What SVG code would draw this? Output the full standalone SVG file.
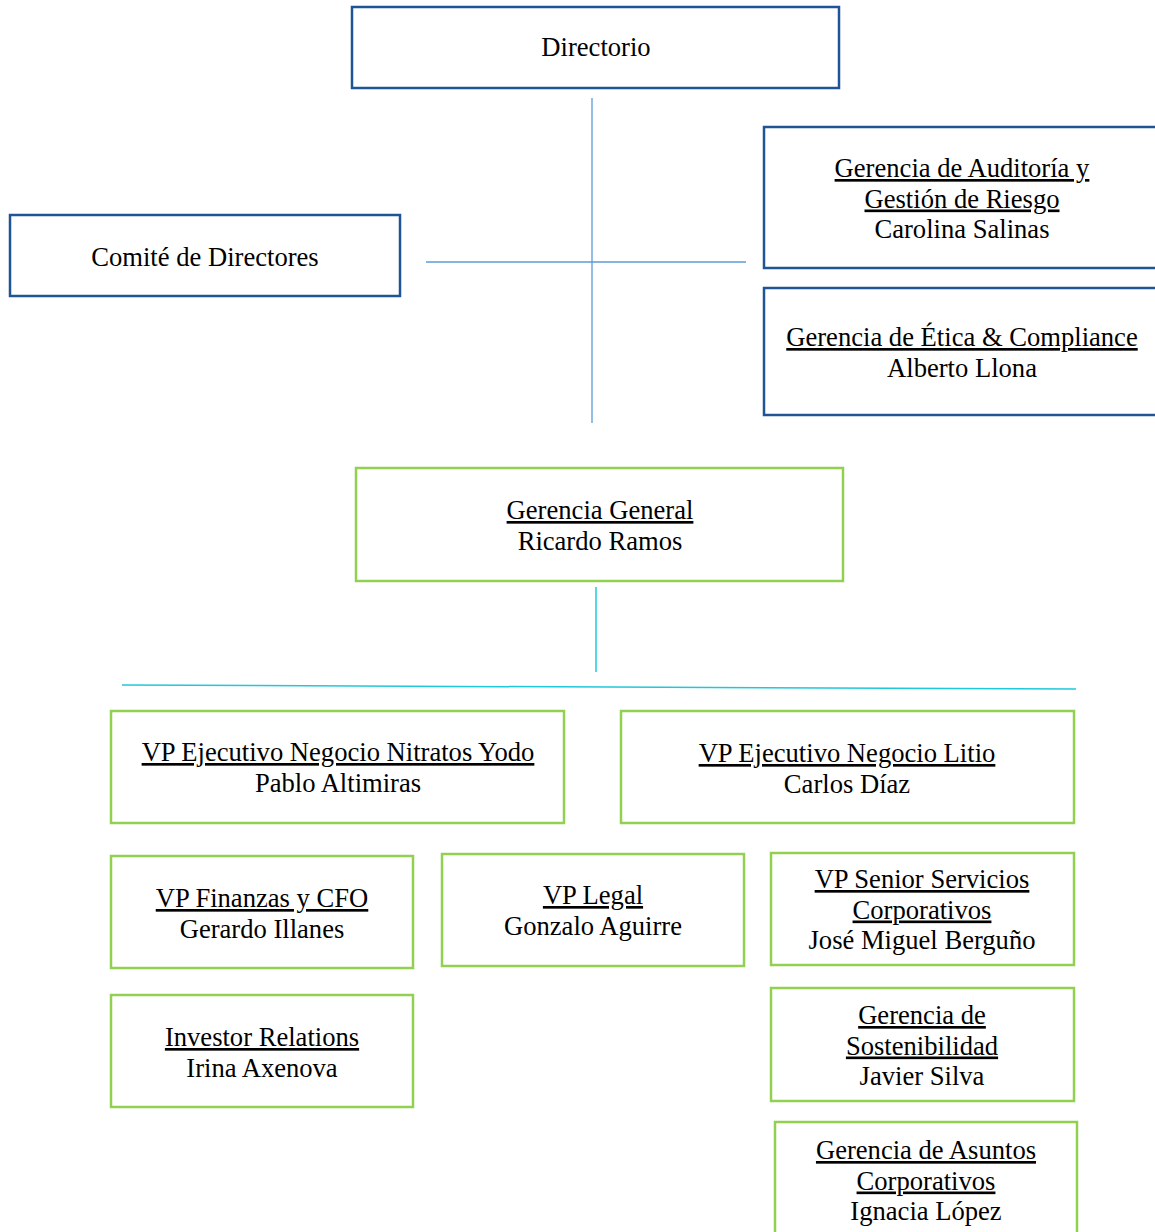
<svg xmlns="http://www.w3.org/2000/svg" width="1155" height="1232" viewBox="0 0 1155 1232">
<style>
text{font-family:"Liberation Serif","Times New Roman",serif;font-size:26.6px;fill:#000;text-anchor:middle}
.u{text-decoration:underline}
.blue{fill:#fff;stroke:#1F5597;stroke-width:2.5}
.green{fill:#fff;stroke:#92D050;stroke-width:2.5}
.cb{stroke:#5B9BD5;stroke-width:1.3;fill:none}
.cc{stroke:#1FC8DA;stroke-width:1.5;fill:none}
</style>
<rect width="1155" height="1232" fill="#fff"/>
<g id="connectors">
<line class="cb" x1="592" y1="98" x2="592" y2="423"/>
<line class="cb" x1="426" y1="262" x2="746" y2="262"/>
<line class="cc" x1="596" y1="587" x2="596" y2="672"/>
<line class="cc" x1="122" y1="685" x2="1076" y2="689"/>
</g>
<g id="directorio"><rect class="blue" x="352" y="7" width="487" height="81"/><text x="596" y="56">Directorio</text></g>
<g id="comite"><rect class="blue" x="10" y="215" width="390" height="81"/><text x="205" y="266">Comité de Directores</text></g>
<g id="auditoria"><rect class="blue" x="764" y="127" width="400" height="141"/><text x="962" y="177"><tspan class="u">Gerencia de Auditoría y</tspan><tspan class="u" x="962" dy="30.5">Gestión de Riesgo</tspan><tspan x="962" dy="30.5">Carolina Salinas</tspan></text></g>
<g id="etica"><rect class="blue" x="764" y="288" width="400" height="127"/><text x="962" y="346"><tspan class="u">Gerencia de Ética &amp; Compliance</tspan><tspan x="962" dy="30.5">Alberto Llona</tspan></text></g>
<g id="gerencia-general"><rect class="green" x="356" y="468" width="487" height="113"/><text x="600" y="519"><tspan class="u">Gerencia General</tspan><tspan x="600" dy="30.5">Ricardo Ramos</tspan></text></g>
<g id="vp-nitratos"><rect class="green" x="111" y="711" width="453" height="112"/><text x="338" y="761"><tspan class="u">VP Ejecutivo Negocio Nitratos Yodo</tspan><tspan x="338" dy="30.5">Pablo Altimiras</tspan></text></g>
<g id="vp-litio"><rect class="green" x="621" y="711" width="453" height="112"/><text x="847" y="762"><tspan class="u">VP Ejecutivo Negocio Litio</tspan><tspan x="847" dy="30.5">Carlos Díaz</tspan></text></g>
<g id="vp-finanzas"><rect class="green" x="111" y="856" width="302" height="112"/><text x="262" y="907"><tspan class="u">VP Finanzas y CFO</tspan><tspan x="262" dy="30.5">Gerardo Illanes</tspan></text></g>
<g id="vp-legal"><rect class="green" x="442" y="854" width="302" height="112"/><text x="593" y="904"><tspan class="u">VP Legal</tspan><tspan x="593" dy="30.5">Gonzalo Aguirre</tspan></text></g>
<g id="vp-senior"><rect class="green" x="771" y="853" width="303" height="112"/><text x="922" y="888"><tspan class="u">VP Senior Servicios</tspan><tspan class="u" x="922" dy="30.5">Corporativos</tspan><tspan x="922" dy="30.5">José Miguel Berguño</tspan></text></g>
<g id="investor"><rect class="green" x="111" y="995" width="302" height="112"/><text x="262" y="1046"><tspan class="u">Investor Relations</tspan><tspan x="262" dy="30.5">Irina Axenova</tspan></text></g>
<g id="sostenibilidad"><rect class="green" x="771" y="988" width="303" height="113"/><text x="922" y="1024"><tspan class="u">Gerencia de</tspan><tspan class="u" x="922" dy="30.5">Sostenibilidad</tspan><tspan x="922" dy="30.5">Javier Silva</tspan></text></g>
<g id="asuntos"><rect class="green" x="775" y="1122" width="302" height="130"/><text x="926" y="1159"><tspan class="u">Gerencia de Asuntos</tspan><tspan class="u" x="926" dy="30.5">Corporativos</tspan><tspan x="926" dy="30.5">Ignacia López</tspan></text></g>
</svg>
